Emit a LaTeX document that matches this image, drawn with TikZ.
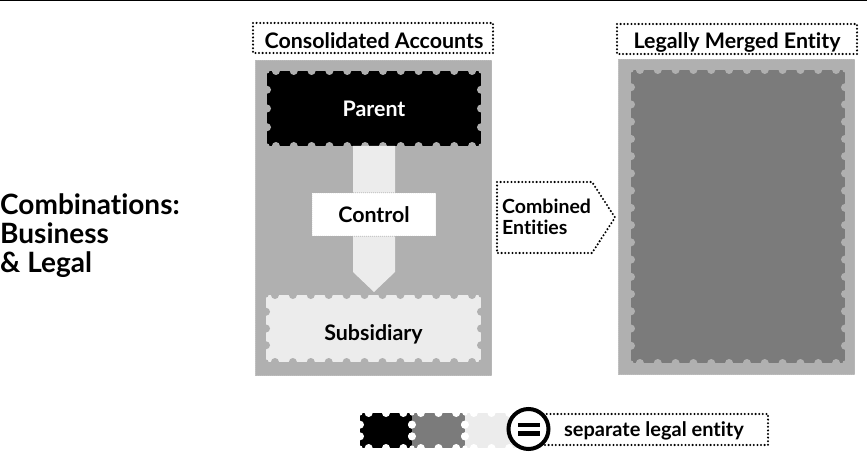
\documentclass[tikz,border=0pt]{standalone}
\usepackage{fontspec}
\setmainfont{Lato}[Ligatures=NoCommon]
\usetikzlibrary{calc,positioning}
\definecolor{boxgrey}{HTML}{B0B0B0}
\definecolor{stampgrey}{HTML}{7B7B7B}
\definecolor{palegrey}{HTML}{ECECEC}
\newcommand{\biter}{4pt}
% stamp: x1,y1,x2,y2,fill,bite colour,bites across,bites down
\newcommand{\stamp}[8]{%
  \fill[#5] (#1,#2) rectangle (#3,#4);
  \foreach \i in {1,...,#7}{
    \fill[#6] ({#1+(\i-0.5)*(#3-#1)/#7},#2) circle[radius=\biter];
    \fill[#6] ({#1+(\i-0.5)*(#3-#1)/#7},#4) circle[radius=\biter];}
  \foreach \j in {1,...,#8}{
    \fill[#6] (#1,{#2+\j*(#4-#2)/(#8+1)}) circle[radius=\biter];
    \fill[#6] (#3,{#2+\j*(#4-#2)/(#8+1)}) circle[radius=\biter];}
  \foreach \c in {(#1,#2),(#3,#2),(#1,#4),(#3,#4)}
    \fill[#6] \c circle[radius=2.5pt];
}
% grey panel with a fine perforated rim
\newcommand{\panel}[4]{%
  \fill[boxgrey] (#1,#2) rectangle (#3,#4);
  \draw[perf=white] (#1,#2) rectangle (#3,#4);
}

\begin{document}
\begin{tikzpicture}[x=1pt,y=-1pt,
    dotbox/.style={draw, line width=2.3pt, dash pattern=on 0pt off 3.6pt, line cap=round},
    perf/.style={#1, line width=1pt, dash pattern=on 0pt off 2pt, line cap=round},
    label/.style={font=\fontsize{21.4}{25}\selectfont\bfseries, inner sep=0pt}]
  \useasboundingbox (0,0) rectangle (867,454);
  %\draw[help lines,step=50] (0,0) grid (867,454);
  \draw[line width=1.3pt] (0,0.6) -- (867,0.6);

  % title
  \node[label, font=\fontsize{28}{29}\selectfont\bfseries, align=left, anchor=north west]
    (title) at (0,193) {Combinations:\\Business\\\& Legal};

  % consolidated accounts
  \draw[dotbox] (253,23) rectangle (493,53);
  \node[label, anchor=base] (consol) at (374,48.5) {Consolidated Accounts};
  \panel{255}{60}{492}{376}
  \stamp{267}{71}{481}{146}{black}{boxgrey}{12}{3}
  \stamp{266}{295}{481}{362}{palegrey}{boxgrey}{12}{3}
  \node[label, white, anchor=base] (parent) at (374,117) {Parent};
  \node[label, anchor=base] (subsid) at (373.5,340) {Subsidiary};
  \coordinate (ptop) at (374,146);
  \coordinate (sbot) at (374,292);
  \fill[palegrey] ($(ptop)+(-21,0)$) -- ($(ptop)+(21,0)$) -- ($(sbot)+(21,-20)$)
    -- (sbot) -- ($(sbot)+(-21,-20)$) -- cycle;
  \node[label, fill=white, minimum width=124pt, minimum height=43pt] (control) at (374,214.5) {Control};
  \draw[perf=boxgrey] (control.north west) rectangle (control.south east);

  % combined entities
  \draw[dotbox] (497,182) -- (592,182) -- (615,217.5) -- (592,253) -- (497,253) -- cycle;
  \node[label, font=\fontsize{19.5}{21}\selectfont\bfseries, align=left, anchor=north west]
    (combined) at (502,198.5) {Combined\\Entities};

  % legally merged entity
  \draw[dotbox] (617,24) rectangle (857,54);
  \node[label, anchor=base] (merged) at (737,48.5) {Legally Merged Entity};
  \panel{618}{59}{855}{375}
  \stamp{631}{70}{845}{363}{stampgrey}{boxgrey}{12}{16}

  % legend
  \stamp{360}{413}{412}{448}{black}{white}{3}{2}
  \stamp{412}{413}{465}{448}{stampgrey}{white}{3}{2}
  \stamp{465}{413}{518}{448}{palegrey}{white}{3}{2}
  \draw[dotbox] (540,414) rectangle (768,445);
  \node[circle, draw, line width=4pt, fill=white, minimum size=40pt] (equal) at (528.5,429) {};
  \fill ($(equal)+(-11,-6.5)$) rectangle ($(equal)+(11,-2)$);
  \fill ($(equal)+(-11,2)$) rectangle ($(equal)+(11,6.5)$);
  \node[label, font=\fontsize{20}{21}\selectfont\bfseries, anchor=base] (legend) at (654,436) {separate legal entity};
\end{tikzpicture}
\end{document}
